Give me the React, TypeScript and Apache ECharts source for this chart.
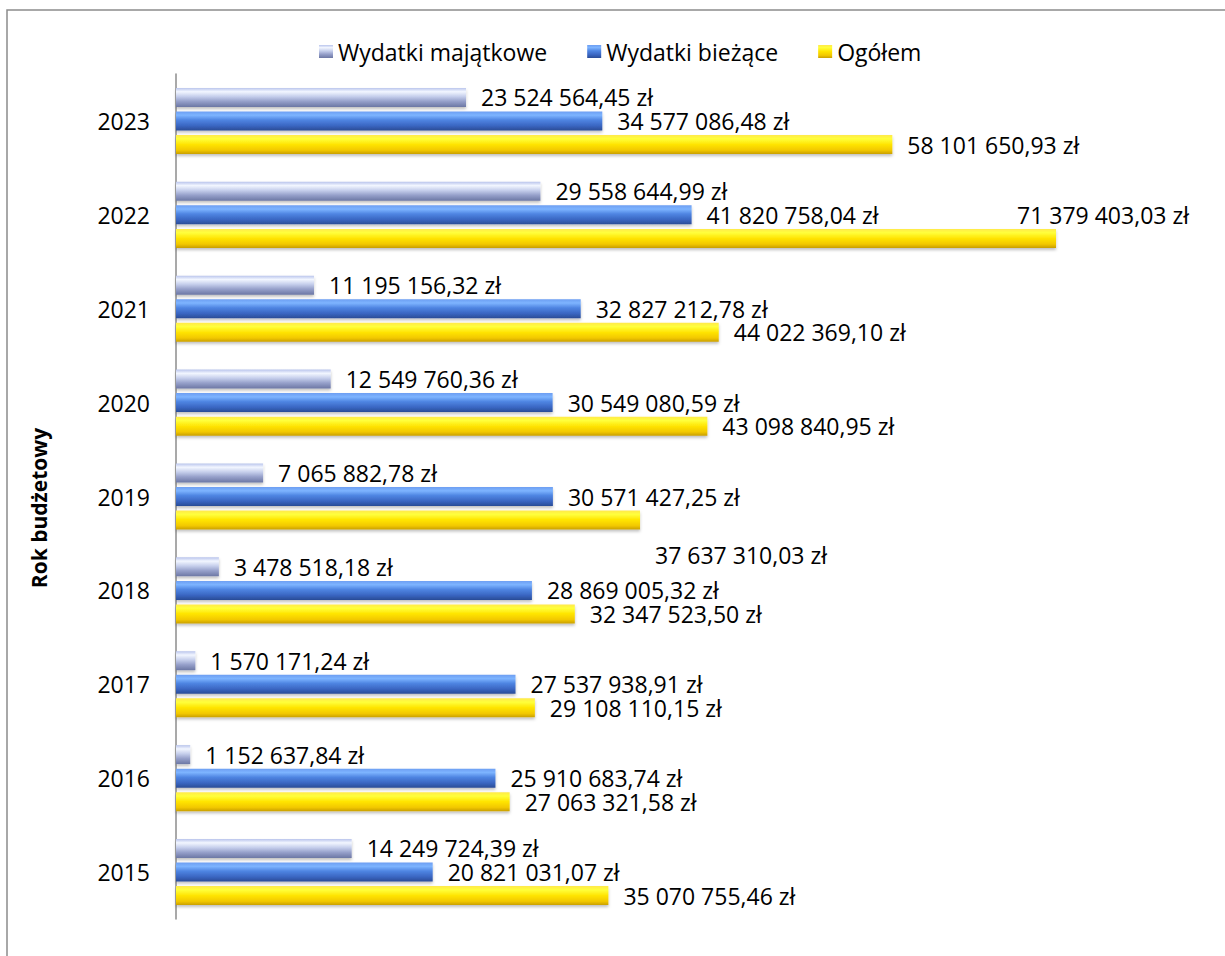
import React, { useEffect, useRef } from "react";
import * as echarts from "echarts";

const years = ["2023", "2022", "2021", "2020", "2019", "2018", "2017", "2016", "2015"];
const majatkowe = [23524564.45, 29558644.99, 11195156.32, 12549760.36, 7065882.78, 3478518.18, 1570171.24, 1152637.84, 14249724.39];
const biezace = [34577086.48, 41820758.04, 32827212.78, 30549080.59, 30571427.25, 28869005.32, 27537938.91, 25910683.74, 20821031.07];
const ogolem = [58101650.93, 71379403.03, 44022369.1, 43098840.95, 37637310.03, 32347523.5, 29108110.15, 27063321.58, 35070755.46];
const seriesNames = ["Wydatki majątkowe", "Wydatki bieżące", "Ogółem"];
const axisTitle = "Rok budżetowy";

const FONT = "'Open Sans', 'Noto Sans', sans-serif";

function fmt(v: number): string {
  const fixed = v.toFixed(2);
  const [i, d] = fixed.split(".");
  const withSpaces = i.replace(/\B(?=(\d{3})+(?!\d))/g, " ");
  return `${withSpaces},${d} zł`;
}

function grad(stops: [number, string][]) {
  return new echarts.graphic.LinearGradient(
    0, 0, 0, 1,
    stops.map(([offset, color]) => ({ offset, color }))
  );
}

const colMaj = grad([
  [0, "#b9c4ec"],
  [0.2, "#f2f6ff"],
  [0.45, "#c6cfec"],
  [0.7, "#97a1cb"],
  [1, "#6c77a4"],
]);
const colBiez = grad([
  [0, "#6d9ef2"],
  [0.2, "#7db4ff"],
  [0.45, "#4f85e2"],
  [0.75, "#3a66c2"],
  [1, "#2a4c96"],
]);
const colOg = grad([
  [0, "#ffe94a"],
  [0.2, "#ffff3c"],
  [0.5, "#ffe400"],
  [0.8, "#f2c800"],
  [1, "#c99f00"],
]);

const labelOffsets: Record<string, Record<number, [number, number]>> = {
  "Ogółem": { 1: [-54, -23], 4: [0, 35] },
};

function buildData(name: string, values: number[]) {
  const offs = labelOffsets[name] || {};
  return values.map((v, i) =>
    offs[i] ? { value: v, label: { offset: offs[i] } } : { value: v }
  );
}

export default function App() {
  const ref = useRef<HTMLDivElement>(null);
  useEffect(() => {
    if (!ref.current) return;
    const chart = echarts.init(ref.current, null, { renderer: "svg" });
    const colors = [colMaj, colBiez, colOg];
    const values = [majatkowe, biezace, ogolem];
    chart.setOption({
      animation: false,
      textStyle: { fontFamily: FONT },
      legend: {
        data: seriesNames,
        left: 314,
        top: 35,
        icon: "rect",
        itemWidth: 14,
        itemHeight: 13,
        itemGap: 40,
        textStyle: { fontSize: 23, color: "#000", fontFamily: FONT },
      },
      grid: { left: 176, top: 74, height: 845, width: 986.3, containLabel: false },
      xAxis: {
        type: "value",
        min: 0,
        max: 80000000,
        show: false,
        splitLine: { show: false },
      },
      yAxis: {
        type: "category",
        data: years,
        inverse: true,
        axisLine: { show: true, lineStyle: { color: "#8c8c8c", width: 1.5 } },
        axisTick: { show: false },
        axisLabel: { fontSize: 23, color: "#000", margin: 26, fontFamily: FONT },
      },
      series: seriesNames.map((name, si) => ({
        name,
        type: "bar",
        barWidth: 19,
        barGap: "24%",
        data: buildData(name, values[si]),
        itemStyle: {
          color: colors[si],
          shadowColor: "rgba(0,0,0,0.25)",
          shadowBlur: 3,
          shadowOffsetY: 2,
        },
        label: {
          show: true,
          position: "right",
          distance: 15,
          fontSize: 23,
          lineHeight: 20,
          color: "#000",
          fontFamily: FONT,
          formatter: (p: any) => fmt(p.value),
        },
      })),
      graphic: [
        {
          type: "polyline",
          shape: { points: [[7, 956], [7, 10], [1225, 10]] },
          style: { stroke: "#8c8c8c", lineWidth: 1.5, fill: "none" },
          silent: true,
        },
        {
          type: "text",
          x: 39,
          y: 508,
          rotation: Math.PI / 2,
          style: {
            text: axisTitle,
            font: `bold 21px ${FONT}`,
            fill: "#000",
            align: "center",
            verticalAlign: "middle",
          },
        },
      ],
    });
    return () => chart.dispose();
  }, []);
  return (
    <div
      ref={ref}
      style={{ position: "fixed", left: 0, top: 0, width: 1225, height: 956, background: "#fff" }}
    />
  );
}
